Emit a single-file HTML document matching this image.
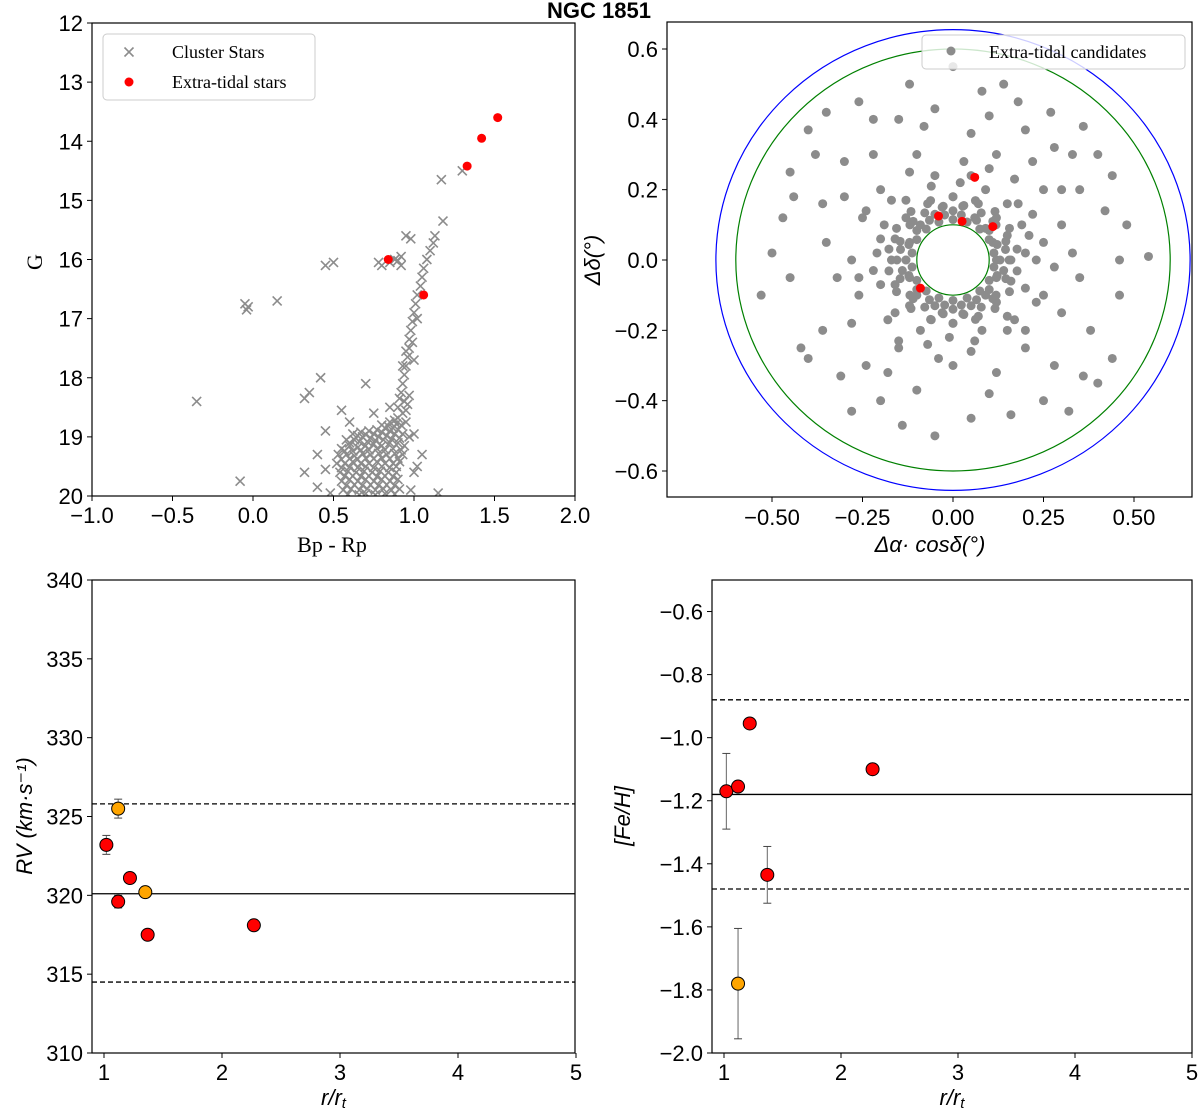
<!DOCTYPE html>
<html><head><meta charset="utf-8">
<style>
body{margin:0;background:#fff;}
svg{display:block;}
text{font-family:"Liberation Sans","DejaVu Sans",sans-serif;}
.tk{font-size:22px;fill:#000;}
.serif{font-family:"Liberation Serif",serif;}
</style></head>
<body>
<svg id="fig" width="1200" height="1114" viewBox="0 0 1200 1114" xmlns="http://www.w3.org/2000/svg">
<text x="599" y="18" text-anchor="middle" font-weight="bold" font-size="22">NGC 1851</text>
</svg>
<script>
// ---------- data ----------
const cmdGray = [[1.30,14.5],[1.17,14.65],[1.18,15.35],[1.13,15.6],[1.12,15.72],[1.10,15.85],[1.08,16.0],[1.06,16.15],[1.05,16.3],[1.04,16.45],[1.02,16.6],[1.01,16.75],[1.00,16.9],[0.99,17.05],[0.98,17.2],[0.97,17.35],[0.97,17.5],[0.96,17.65],[0.95,17.8],[0.94,17.95],[0.93,18.1],[0.92,18.25],[0.91,18.35],[0.90,18.5],[0.95,17.55],[0.99,17.4],[1.00,17.7],[0.93,17.8],[1.02,17.0],
[0.45,16.1],[0.50,16.05],[0.78,16.05],[0.80,16.1],[0.88,16.0],[0.92,15.95],[0.95,15.6],[0.98,15.65],[0.92,16.1],[0.85,16.05],[0.90,16.02],
[-0.05,16.75],[-0.04,16.85],[-0.03,16.8],[0.15,16.7],[-0.35,18.4],[-0.08,19.75],[0.42,18.0],[0.32,18.35],[0.35,18.25],[0.85,18.5],[0.70,18.1],[0.55,18.55],[0.75,18.6],[0.45,18.9],[0.60,18.75],[0.40,19.3],[0.32,19.6],[0.45,19.55],[1.15,19.95],[1.00,18.95],[1.05,19.3],[1.00,19.6],[0.98,19.9],[1.02,19.5],[0.40,19.85],[0.48,19.95],
[0.80,18.8],[0.85,18.75],[0.88,18.72],[0.90,18.68],[0.93,18.6],[0.95,18.55],[0.96,18.45],[0.94,18.4],[0.97,18.3],
[0.62,18.95],[0.67,18.92],[0.72,18.9],[0.77,18.88],[0.82,18.85],[0.87,18.85],[0.92,18.8],[0.95,18.75],
[0.58,19.05],[0.63,19.05],[0.68,19.0],[0.73,19.02],[0.78,19.0],[0.83,18.98],[0.88,18.95],[0.93,18.95],[0.97,19.0],
[0.55,19.2],[0.60,19.15],[0.65,19.18],[0.70,19.15],[0.75,19.12],[0.80,19.15],[0.85,19.1],[0.90,19.1],[0.94,19.15],
[0.53,19.3],[0.58,19.3],[0.63,19.32],[0.68,19.28],[0.73,19.3],[0.78,19.28],[0.83,19.3],[0.88,19.28],[0.93,19.3],
[0.52,19.45],[0.57,19.45],[0.62,19.42],[0.67,19.45],[0.72,19.45],[0.77,19.42],[0.82,19.45],[0.87,19.45],[0.91,19.42],
[0.54,19.6],[0.59,19.58],[0.64,19.6],[0.69,19.58],[0.74,19.6],[0.79,19.58],[0.84,19.6],[0.89,19.6],
[0.55,19.75],[0.60,19.72],[0.65,19.75],[0.70,19.72],[0.75,19.75],[0.80,19.72],[0.85,19.75],[0.90,19.72],
[0.56,19.9],[0.61,19.88],[0.66,19.9],[0.71,19.88],[0.76,19.9],[0.81,19.88],[0.86,19.9],[0.91,19.88],[0.66,19.98],[0.76,19.98],
[0.84,18.82],[0.89,18.78],[0.65,18.98],[0.70,18.96],[0.75,18.95],[0.80,18.92],[0.85,18.9],[0.90,18.88],
[0.60,19.1],[0.66,19.08],[0.71,19.08],[0.76,19.06],[0.81,19.05],[0.86,19.04],[0.91,19.02],
[0.57,19.24],[0.62,19.24],[0.67,19.22],[0.72,19.22],[0.77,19.2],[0.82,19.22],[0.87,19.2],[0.92,19.22],
[0.55,19.38],[0.60,19.37],[0.65,19.38],[0.70,19.36],[0.75,19.37],[0.80,19.36],[0.85,19.37],[0.90,19.36],
[0.55,19.52],[0.60,19.51],[0.65,19.52],[0.70,19.5],[0.75,19.52],[0.80,19.5],[0.85,19.52],[0.89,19.5],
[0.57,19.66],[0.62,19.66],[0.67,19.67],[0.72,19.66],[0.77,19.67],[0.82,19.66],[0.87,19.67],
[0.58,19.82],[0.63,19.81],[0.68,19.82],[0.73,19.81],[0.78,19.82],[0.83,19.81],[0.88,19.82],
[0.59,19.97],[0.70,19.96],[0.82,19.96],[0.88,19.97]];
const cmdRed = [[1.52,13.6],[1.42,13.95],[1.33,14.42],[0.84,16.0],[1.06,16.6]];

const skyGray = [[0.54,0.01],[-0.53,-0.1],[-0.4,0.37],[-0.42,-0.25],[-0.28,-0.43],[0.32,-0.43],[0.44,-0.28],[0.44,0.24],[0.36,0.38],[0.27,0.42],[0.14,0.5],[0.0,0.55],[-0.12,0.5],[-0.26,0.45],[-0.15,0.4],[0.2,0.37],[0.33,0.3],[0.42,0.14],[0.46,-0.1],[0.38,-0.2],[0.28,-0.3],[0.1,-0.38],[-0.1,-0.37],[-0.2,-0.4],[-0.36,-0.2],[-0.45,-0.05],[-0.47,0.12],[-0.36,0.16],[-0.3,0.28],[-0.22,0.3],[0.1,0.41],[0.25,0.2],[0.3,0.1],[0.35,-0.05],[0.3,-0.15],[0.2,-0.25],[0.0,-0.3],[-0.15,-0.25],[-0.28,-0.18],[-0.35,0.05],[-0.32,-0.05],[-0.25,0.12],[0.05,0.36],[-0.05,0.43],[0.18,0.45],[-0.35,0.42],[0.4,-0.35],[-0.4,-0.28],[0.05,-0.45],[-0.05,-0.5],[0.25,-0.4],[0.15,-0.2],[-0.2,0.2],[0.22,0.28],[-0.45,0.25],[0.46,0.0],[-0.24,-0.3],[0.35,0.2],[0.12,0.3],[-0.1,0.3],
[-0.38,0.3],[-0.44,0.18],[-0.5,0.02],[-0.31,-0.33],[-0.14,-0.47],[0.16,-0.44],[0.36,-0.33],[0.48,0.1],[0.4,0.3],[0.08,0.48],[-0.22,0.4],[-0.08,0.38],[0.28,0.32],[-0.18,-0.32],[0.12,-0.32],[0.25,-0.1],[-0.3,0.18],[0.3,0.2],[-0.26,-0.05],[0.33,0.02],
[0.12,0.0],[0.11,0.05],[0.09,0.09],[0.06,0.12],[0.0,0.14],[-0.05,0.13],[-0.09,0.1],[-0.12,0.05],[-0.13,0.0],[-0.12,-0.05],[-0.1,-0.1],[-0.05,-0.13],[0.0,-0.14],[0.05,-0.13],[0.09,-0.1],[0.12,-0.05],
[0.16,0.0],[0.15,0.07],[0.12,0.12],[0.07,0.16],[0.0,0.18],[-0.07,0.16],[-0.13,0.12],[-0.16,0.06],[-0.17,0.0],[-0.16,-0.07],[-0.12,-0.13],[-0.06,-0.17],[0.0,-0.18],[0.07,-0.16],[0.12,-0.12],[0.16,-0.06],
[0.2,0.02],[0.19,0.1],[0.15,0.16],[0.09,0.2],[0.02,0.22],[-0.06,0.21],[-0.13,0.17],[-0.19,0.1],[-0.21,0.02],[-0.2,-0.07],[-0.16,-0.15],[-0.09,-0.2],[-0.01,-0.22],[0.08,-0.2],[0.15,-0.16],[0.2,-0.08],
[0.13,0.0],[0.122,0.044],[0.1,0.084],[0.065,0.113],[0.023,0.128],[-0.023,0.128],[-0.065,0.113],[-0.1,0.084],[-0.122,0.044],[-0.13,0.0],[-0.122,-0.044],[-0.1,-0.084],[-0.065,-0.113],[-0.023,-0.128],[0.023,-0.128],[0.065,-0.113],[0.1,-0.084],[0.122,-0.044],
[0.177,0.031],[0.156,0.09],[0.116,0.138],[0.062,0.169],[0.0,0.18],[-0.062,0.169],[-0.116,0.138],[-0.156,0.09],[-0.177,0.031],[-0.177,-0.031],[-0.156,-0.09],[-0.116,-0.138],[-0.062,-0.169],[0.0,-0.18],[0.062,-0.169],[0.116,-0.138],[0.156,-0.09],[0.177,-0.031],
[0.145,0.03],[0.14,-0.03],[-0.145,0.03],[-0.14,-0.03],[0.03,0.155],[-0.03,0.15],[0.03,-0.155],[-0.03,-0.15],[0.11,0.11],[-0.11,0.11],[0.11,-0.11],[-0.11,-0.11],
[0.113,0.02],[0.1,0.058],[0.074,0.088],[0.039,0.108],[0.0,0.115],[-0.039,0.108],[-0.074,0.088],[-0.1,0.058],[-0.113,0.02],[-0.113,-0.02],[-0.1,-0.058],[-0.074,-0.088],[-0.039,-0.108],[0.0,-0.115],[0.039,-0.108],[0.074,-0.088],[0.1,-0.058],[0.113,-0.02],
[0.155,0.0],[0.146,0.053],[0.119,0.1],[0.078,0.134],[0.027,0.153],[-0.027,0.153],[-0.078,0.134],[-0.119,0.1],[-0.146,0.053],[-0.155,0.0],[-0.146,-0.053],[-0.119,-0.1],[-0.078,-0.134],[-0.027,-0.153],[0.027,-0.153],[0.078,-0.134],[0.119,-0.1],[0.146,-0.053],
[0.25,0.05],[0.23,-0.12],[-0.24,0.14],[-0.26,-0.1],[0.1,0.26],[-0.12,0.25],[0.05,-0.26],[-0.15,-0.23],[0.28,-0.02],[-0.28,0.0],[0.17,0.23],[0.2,-0.2],[0.03,0.28],[-0.04,-0.28],[0.22,0.13],
[0.23,0.0],[0.21,0.07],[-0.22,-0.03],[-0.2,0.06],[0.05,0.24],[-0.05,0.24],[0.06,-0.23],[-0.07,-0.24],[0.18,0.16],[-0.17,0.17],[0.17,-0.17],[-0.18,-0.17]];
const skyRed = [[0.06,0.235],[-0.04,0.125],[0.025,0.11],[0.11,0.095],[-0.09,-0.08]];
const ringRadii = [0.655,0.60,0.10];

const rvX = [1.02,1.12,1.22,1.37,2.27];
const rvVal = [323.2,319.6,321.1,317.5,318.1];
const rvErr = [0.6,0.4,0.3,0.3,0.3];
const rvOrX = [1.12,1.35];
const rvOrVal = [325.5,320.2];
const rvOrErr = [0.6,0.3];
const rvLines = [320.1,325.8,314.5];

const feX = [1.02,1.12,1.22,1.37,2.27];
const feVal = [-1.17,-1.155,-0.955,-1.435,-1.1];
const feErr = [0.12,0.0,0.0,0.09,0.0];
const feOrX = [1.12];
const feOrVal = [-1.78];
const feOrErr = [0.175];
const feLines = [-1.18,-0.88,-1.48];

// ---------- helpers ----------
const svg = document.getElementById('fig');
const NS = 'http://www.w3.org/2000/svg';
function mk(tag, attrs, parent){const e=document.createElementNS(NS,tag);for(const k in attrs)e.setAttribute(k,attrs[k]);(parent||svg).appendChild(e);return e;}
function lin(d0,d1,p0,p1){return v=>p0+(v-d0)*(p1-p0)/(d1-d0);}
function txt(x,y,s,cls,anchor,extra){const t=mk('text',Object.assign({x:x,y:y,'class':cls||'tk','text-anchor':anchor||'middle'},extra||{}));t.textContent=s;return t;}
function fmtMinus(s){return String(s).replace('-','\u2212');}
function box(x0,y0,x1,y1,name){const r=mk('rect',{x:x0,y:y0,width:x1-x0,height:y1-y0,fill:'none',stroke:'#000','stroke-width':1.2});

}
function xTicks(vals,labels,sx,y,name,dy){vals.forEach((v,i)=>{mk('line',{x1:sx(v),x2:sx(v),y1:y,y2:y+5,stroke:'#000'});const t=txt(sx(v),y+(dy||28),labels[i]);

});}
function yTicks(vals,labels,sy,x,name){vals.forEach((v,i)=>{mk('line',{x1:x-5,x2:x,y1:sy(v),y2:sy(v),stroke:'#000'});const t=txt(x-9,sy(v)+8,labels[i],'tk','end');

});}
function cross(x,y,g,col){mk('path',{d:`M${x-4.5} ${y-4.5}L${x+4.5} ${y+4.5}M${x-4.5} ${y+4.5}L${x+4.5} ${y-4.5}`,stroke:col,'stroke-width':1.6,fill:'none'},g);}

// ---------- panel 1: CMD ----------
(function(){
const sx=lin(-1,2,92,575), sy=lin(12,20,23,496);
const clip=mk('clipPath',{id:'c1'});mk('rect',{x:92,y:23,width:483,height:473},clip);
const g=mk('g',{'clip-path':'url(#c1)'});


cmdGray.forEach(p=>cross(sx(p[0]),sy(p[1]),g,'#8c8c8c'));
const gr=mk('g',{});


cmdRed.forEach(p=>mk('circle',{cx:sx(p[0]),cy:sy(p[1]),r:4.5,fill:'#ff0000'},gr));
box(92,23,575,496,'cmd-axes');
xTicks([-1,-0.5,0,0.5,1,1.5,2],['-1.0','-0.5','0.0','0.5','1.0','1.5','2.0'].map(fmtMinus),sx,496,'cmd-x',27);
yTicks([12,13,14,15,16,17,18,19,20],['12','13','14','15','16','17','18','19','20'],sy,92,'cmd-y');
let t=txt(332,552,'Bp - Rp','tk serif');
t=txt(42,262,'G','tk serif','middle',{transform:'rotate(-90 42 262)'});
const lg=mk('g',{});


mk('rect',{x:103,y:34,width:212,height:66,rx:4,fill:'#fff',stroke:'#ccc'},lg);
cross(129,52,lg,'#8c8c8c');
mk('circle',{cx:129,cy:82,r:4.5,fill:'#ff0000'},lg);
let a=txt(172,58,'Cluster Stars','serif','start',{'font-size':'18'});lg.appendChild(a);
a=txt(172,88,'Extra-tidal stars','serif','start',{'font-size':'18'});lg.appendChild(a);
})();

// ---------- panel 2: sky ----------
(function(){
const sx=lin(0,0.5,953,1134), sy=lin(0,0.6,260,49);
const clip=mk('clipPath',{id:'c2'});mk('rect',{x:667,y:22,width:525,height:475},clip);
const g=mk('g',{'clip-path':'url(#c2)'});


skyGray.forEach(p=>mk('circle',{cx:sx(p[0]),cy:sy(p[1]),r:4.5,fill:'#8c8c8c'},g));
const cols=['#0000ff','#008000','#008000'];
ringRadii.forEach((r,i)=>{const c=mk('ellipse',{cx:sx(0),cy:sy(0),rx:sx(r)-sx(0),ry:sy(0)-sy(r),fill:'none',stroke:cols[i],'stroke-width':1.2},g);

});
skyRed.forEach(p=>mk('circle',{cx:sx(p[0]),cy:sy(p[1]),r:4.5,fill:'#ff0000'},g));
box(667,22,1192,497,'sky-axes');
xTicks([-0.5,-0.25,0,0.25,0.5],['-0.50','-0.25','0.00','0.25','0.50'].map(fmtMinus),sx,497,'sky-x');
yTicks([0.6,0.4,0.2,0,-0.2,-0.4,-0.6],['0.6','0.4','0.2','0.0','-0.2','-0.4','-0.6'].map(fmtMinus),sy,667,'sky-y');
let t=txt(930,552,'\u0394\u03b1\u00b7 cos\u03b4(\u00b0)','tk','middle',{'font-style':'italic'});
t=txt(600,260,'\u0394\u03b4(\u00b0)','tk','middle',{transform:'rotate(-90 600 260)','font-style':'italic'});
const lg=mk('g',{});


mk('rect',{x:922,y:35,width:263,height:34,rx:4,fill:'#fff','fill-opacity':0.8,stroke:'#ccc'},lg);
mk('circle',{cx:951,cy:51,r:4.5,fill:'#8c8c8c'},lg);
lg.appendChild(txt(989,58,'Extra-tidal candidates','serif','start',{'font-size':'18'}));
})();

// ---------- panels 3 & 4 ----------
function errPanel(o){
const sx=lin(1,5,o.x1,o.x5), sy=lin(o.y0v,o.y1v,580,1053);
box(o.L,580,o.R,1053,o.name+'-axes');
o.lines.forEach((v,i)=>{const l=mk('line',{x1:o.L,x2:o.R,y1:sy(v),y2:sy(v),stroke:'#000','stroke-width':1.3,'stroke-dasharray':i===0?'none':'5,3'});

});
function pts(xs,vs,es,col,nm){xs.forEach((x,i)=>{const g=mk('g',{});


if(es[i]>0){mk('line',{x1:sx(x),x2:sx(x),y1:sy(vs[i]-es[i]),y2:sy(vs[i]+es[i]),stroke:'#666','stroke-width':1},g);
[vs[i]-es[i],vs[i]+es[i]].forEach(v=>mk('line',{x1:sx(x)-4,x2:sx(x)+4,y1:sy(v),y2:sy(v),stroke:'#444','stroke-width':1},g));}
mk('circle',{cx:sx(x),cy:sy(vs[i]),r:6.5,fill:col,stroke:'#000','stroke-width':1},g);});}
pts(o.x,o.v,o.e,'#ff0000',o.name+'-red-point');
pts(o.ox,o.ov,o.oe,'#ffa500',o.name+'-orange-point');
xTicks([1,2,3,4,5],['1','2','3','4','5'],sx,1053,o.name+'-x',27);
yTicks(o.yt,o.ytl,sy,o.L,o.name+'-y');
let t=txt((o.L+o.R)/2,1105,'r/r','tk','middle',{'font-style':'italic'});
const ts=mk('tspan',{'font-size':'15',dy:'3'},t);ts.textContent='t';

t=txt(o.tx,816,o.title,'tk','middle',{transform:`rotate(-90 ${o.tx} 816)`,'font-style':'italic'});

}
errPanel({name:'rv',L:92,R:575,x1:104,x5:576,y0v:340,y1v:310,lines:rvLines,x:rvX,v:rvVal,e:rvErr,ox:rvOrX,ov:rvOrVal,oe:rvOrErr,
 yt:[340,335,330,325,320,315,310],ytl:['340','335','330','325','320','315','310'],tx:32,title:'RV (km\u00b7s\u207b\u00b9)'});
errPanel({name:'feh',L:712,R:1192,x1:724,x5:1192,y0v:-0.5,y1v:-2.0,lines:feLines,x:feX,v:feVal,e:feErr,ox:feOrX,ov:feOrVal,oe:feOrErr,
 yt:[-0.6,-0.8,-1.0,-1.2,-1.4,-1.6,-1.8,-2.0],ytl:['-0.6','-0.8','-1.0','-1.2','-1.4','-1.6','-1.8','-2.0'].map(fmtMinus),tx:630,title:'[Fe/H]'});
</script>
</body></html>
